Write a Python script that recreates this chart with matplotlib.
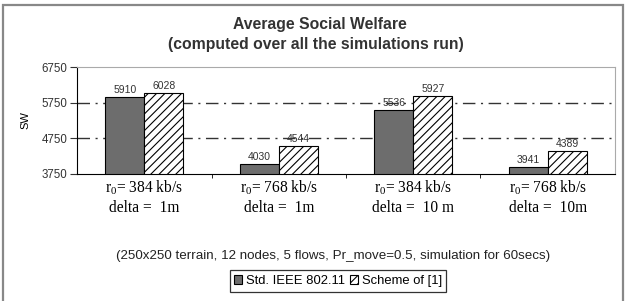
import numpy as np
import matplotlib
matplotlib.use('Agg')
import matplotlib.pyplot as plt
from matplotlib.patches import Rectangle

groups = ['$\\mathregular{r_0}$= 384 kb/s\ndelta =  1m',
          '$\\mathregular{r_0}$= 768 kb/s\ndelta =  1m',
          '$\\mathregular{r_0}$= 384 kb/s\ndelta =  10 m',
          '$\\mathregular{r_0}$= 768 kb/s\ndelta =  10m']
std_ieee = [5910, 4030, 5536, 3941]
scheme = [6028, 4544, 5927, 4389]
yticks = [3750, 4750, 5750, 6750]

plt.rcParams['font.family'] = ['Liberation Sans', 'DejaVu Sans']
plt.rcParams['hatch.linewidth'] = 0.8

fig = plt.figure(figsize=(6.27, 3.01), dpi=100)
# outer frame
fig.patches.append(Rectangle((3/627, -0.05), 620/627, 1.05 - 5/301, transform=fig.transFigure,
                             fill=False, edgecolor='#888888', linewidth=1.6))

ax = fig.add_axes([77/627, 127/301, 538/627, 107/301])
x = np.arange(len(groups))
w = 0.29
b1 = ax.bar(x - w/2, std_ieee, w, color='#6d6d6d', edgecolor='black', linewidth=0.8, label='Std. IEEE 802.11')
b2 = ax.bar(x + w/2, scheme, w, color='white', edgecolor='black', hatch='////', linewidth=0.8, label='Scheme of [1]')

for xi, v in zip(x - w/2, std_ieee):
    ax.text(xi, v + 60, str(v), ha='center', va='bottom', fontsize=7.5, color='#333333')
for xi, v in zip(x + w/2, scheme):
    ax.text(xi, v + 60, str(v), ha='center', va='bottom', fontsize=7.5, color='#333333')

ax.set_ylim(3750, 6750)
ax.set_xlim(-0.5, 3.5)
ax.set_yticks(yticks)
ax.tick_params(axis='y', labelsize=8.3, length=5, direction='out', colors='#333333', pad=2)
for yv in [4750, 5750]:
    ax.axhline(yv, color='#333333', linewidth=1.0, linestyle=(0, (9, 4, 1.5, 4)), zorder=0)

ax.set_xticks(x)
ax.set_xticklabels(groups, fontfamily='Liberation Serif', fontsize=11.2, linespacing=1.3)
ax.set_xticks([0.5, 1.5, 2.5], minor=True)
ax.tick_params(axis='x', which='major', length=0, pad=3)
ax.tick_params(axis='x', which='minor', length=3, direction='out')
for s in ['top', 'right']:
    ax.spines[s].set_color('#aaaaaa')
ax.set_ylabel('SW', fontsize=8, labelpad=8)

fig.text(320/627, 1 - 25/301, 'Average Social Welfare', ha='center', va='center', fontsize=11.3, fontweight='bold', color='#333333')
fig.text(316/627, 1 - 44/301, '(computed over all the simulations run)', ha='center', va='center', fontsize=11.3, fontweight='bold', color='#333333')
fig.text(333/627, 1 - 256/301, '(250x250 terrain, 12 nodes, 5 flows, Pr_move=0.5, simulation for 60secs)',
         ha='center', va='center', fontsize=9.6, color='#222222')

leg = fig.legend(handles=[b1, b2], loc='center', bbox_to_anchor=(338/627, 1 - 281/301), ncol=2,
                 fontsize=9.4, frameon=True, fancybox=False, edgecolor='black', handlelength=0.6,
                 handleheight=0.6, handletextpad=0.3, columnspacing=0.4, borderpad=0.35)
leg.get_frame().set_linewidth(0.9)

fig.savefig('out.png', dpi=100)
